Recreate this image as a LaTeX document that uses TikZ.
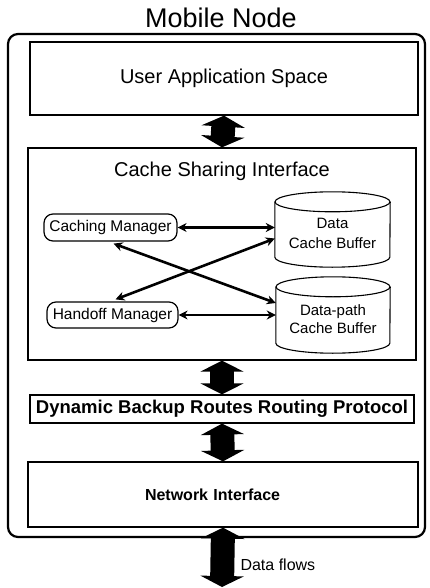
\documentclass[tikz,border=0pt]{standalone}
\usepackage{fontspec}
\setmainfont{Liberation Sans}
\usetikzlibrary{arrows.meta,calc}
\tikzset{
  layerbox/.style={draw, line width=1.3pt, inner sep=0pt},
  mgrbox/.style={draw, line width=1.2pt, rounded corners=9pt, inner sep=0pt, font=\fontsize{15.5}{17}\selectfont},
  cylbox/.style={inner sep=0pt, align=center, font=\fontsize{15}{19}\selectfont},
  cylline/.style={line width=1.1pt},
  link/.style={line width=2.6pt, {Stealth[length=9pt,width=9pt]}-{Stealth[length=9pt,width=9pt]}},
  bigarrow/.style={line width=24pt, {Triangle[width=43pt,length=11pt]}-{Triangle[width=43pt,length=11pt]}},
}
\begin{document}
\begin{tikzpicture}[x=1pt,y=-1pt]
\useasboundingbox (0,0) rectangle (430,588);
\node[font=\fontsize{27}{30}\selectfont] (title) at (221,18) {Mobile Node};
\draw[line width=2.2pt, rounded corners=10pt] (8,34) rectangle (425,537);
\node[layerbox, minimum width=388pt, minimum height=73pt, font=\fontsize{20}{22}\selectfont] (ua) at (224,78.5) {User Application Space};
\node[layerbox, minimum width=388pt, minimum height=212pt] (csi) at (222,254) {};
\node[font=\fontsize{20}{22}\selectfont] (csit) at (222,171) {Cache Sharing Interface};
\node[mgrbox, minimum width=133pt, minimum height=27pt] (cm) at (110.5,227.5) {Caching Manager};
\node[mgrbox, minimum width=131pt, minimum height=26pt] (hm) at (112.5,315) {Handoff Manager};
\node[cylbox, minimum width=115pt, minimum height=75pt] (dcb) at (332.5,229.5) {\raisebox{-9pt}[0pt][0pt]{\begin{tabular}{@{}c@{}}Data\\[1pt]Cache Buffer\end{tabular}}};
\node[cylbox, minimum width=114pt, minimum height=76pt] (dpcb) at (333,315) {\raisebox{-9pt}[0pt][0pt]{\begin{tabular}{@{}c@{}}Data-path\\[-1pt]Cache Buffer\end{tabular}}};
% cylinder outlines
\draw[cylline] ([yshift=-10pt]dcb.north west) -- ([yshift=10pt]dcb.south west)
  arc[start angle=180, end angle=360, x radius=57.5pt, y radius=10pt] -- ([yshift=-10pt]dcb.north east);
\draw[cylline] ([yshift=-10pt]dcb.north) ellipse [x radius=57.5pt, y radius=10pt];
\draw[cylline] ([yshift=-10pt]dpcb.north west) -- ([yshift=10pt]dpcb.south west)
  arc[start angle=180, end angle=360, x radius=57pt, y radius=10pt] -- ([yshift=-10pt]dpcb.north east);
\draw[cylline] ([yshift=-10pt]dpcb.north) ellipse [x radius=57pt, y radius=10pt];
\node[layerbox, minimum width=384pt, minimum height=28pt, font=\bfseries\fontsize{18.5}{21}\selectfont] (dbr) at (222,409) {Dynamic Backup Routes Routing Protocol};
\node[layerbox, minimum width=390pt, minimum height=65pt, font=\bfseries\fontsize{16}{19}\selectfont, text width=366pt, align=left] (ni) at (223,494.5) {\hspace*{105pt}Network Interface};
\coordinate (out) at (222,587);
\node[font=\fontsize{16}{19}\selectfont, anchor=west] (df) at (237,565) {Data flows};
% connectors
\draw[link] (cm.east) -- (cm.east -| dcb.west);
\draw[link] (hm.east) -- (hm.east -| dpcb.west);
\draw[link] ([xshift=3pt,yshift=-2pt]cm.south) -- ([yshift=12pt]dpcb.west);
\draw[link] ([xshift=3pt,yshift=2pt]hm.north) -- ([yshift=-9pt]dcb.west);
% big arrows
\draw[bigarrow] (ua.south) -- (csi.north);
\draw[bigarrow] (csi.south) -- (dbr.north);
\draw[bigarrow] (dbr.south) -- (ni.north);
\draw[bigarrow] (ni.south) -- (out);
\end{tikzpicture}
\end{document}
